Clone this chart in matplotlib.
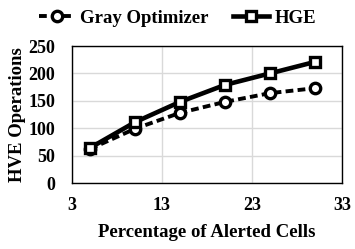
import matplotlib
matplotlib.use('Agg')
import matplotlib.pyplot as plt

x = [5, 10, 15, 20, 25, 30]
gray_opt = [62, 99, 128, 148, 164, 173]
hge = [64, 111, 148, 179, 200, 221]
xticks = [3, 13, 23, 33]
yticks = [0, 50, 100, 150, 200, 250]

plt.rcParams['font.family'] = 'Liberation Serif'
plt.rcParams['font.weight'] = 'bold'

fig = plt.figure(figsize=(3.55, 2.49), dpi=100)
ax = fig.add_axes([72 / 355, 1 - 183 / 249, 270 / 355, 137 / 249])

ax.plot(x, gray_opt, color='black', lw=2.8, ls=(0, (2.0, 1.1)), marker='o', ms=7.5,
        mfc='white', mec='black', mew=2.4, label='Gray Optimizer')
ax.plot(x, hge, color='black', lw=3.3, marker='s', ms=7.5,
        mfc='white', mec='black', mew=2.4, label='HGE')

ax.set_xlim(3, 33)
ax.set_ylim(0, 250)
ax.set_xticks(xticks)
ax.set_yticks(yticks)
ax.tick_params(length=0, labelsize=13)
ax.tick_params(axis='y', pad=12)
ax.tick_params(axis='x', pad=10)
ax.grid(True, color='#d9d9d9', lw=1)
ax.set_axisbelow(True)
for s in ax.spines.values():
    s.set_linewidth(1)
ax.set_xlabel('Percentage of Alerted Cells', fontsize=13.5, fontweight='bold', labelpad=7)
ax.set_ylabel('HVE Operations', fontsize=13.5, fontweight='bold', labelpad=2)

fig.legend(loc='upper center', bbox_to_anchor=(0.5, 1.03), ncol=2, frameon=False,
           fontsize=13.5, handlelength=1.9, columnspacing=1.3, handletextpad=0.3)

fig.savefig('out.png', dpi=100)
